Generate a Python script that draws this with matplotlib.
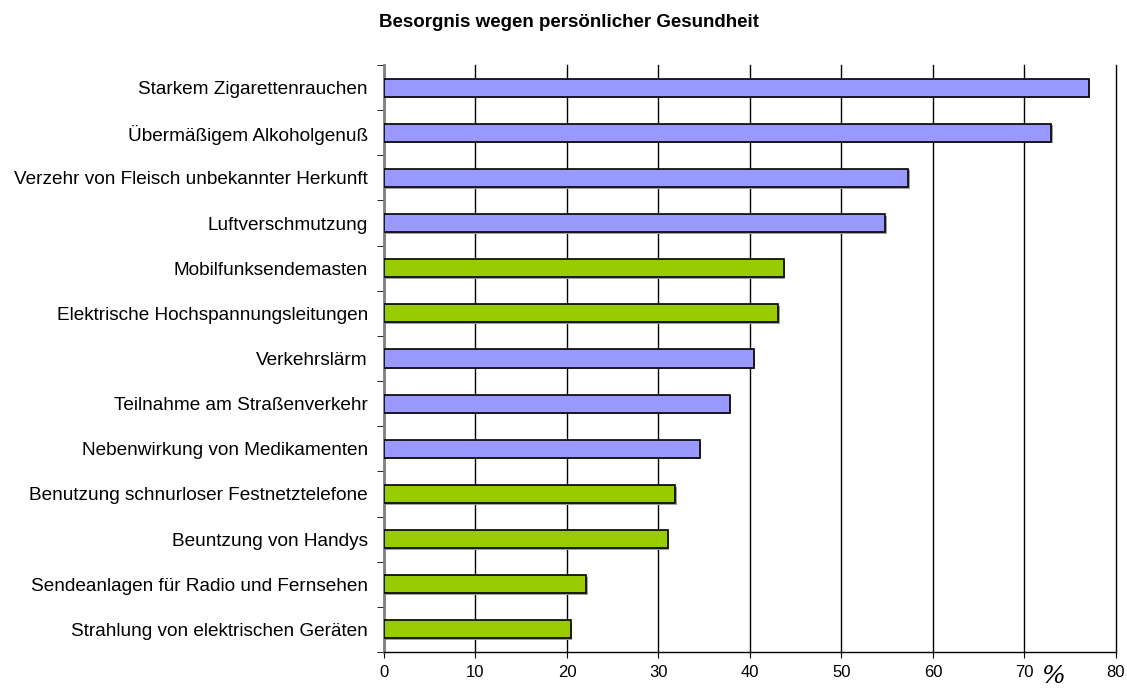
import matplotlib.pyplot as plt
import matplotlib.patheffects as pe
import numpy as np

plt.rcParams['font.family'] = ['Liberation Sans', 'DejaVu Sans']

labels = [
    "Starkem Zigarettenrauchen",
    "Übermäßigem Alkoholgenuß",
    "Verzehr von Fleisch unbekannter Herkunft",
    "Luftverschmutzung",
    "Mobilfunksendemasten",
    "Elektrische Hochspannungsleitungen",
    "Verkehrslärm",
    "Teilnahme am Straßenverkehr",
    "Nebenwirkung von Medikamenten",
    "Benutzung schnurloser Festnetztelefone",
    "Beuntzung von Handys",
    "Sendeanlagen für Radio und Fernsehen",
    "Strahlung von elektrischen Geräten",
]
values = [77.0, 72.9, 57.3, 54.8, 43.7, 43.1, 40.4, 37.8, 34.5, 31.8, 31.0, 22.1, 20.4]
group = ["b", "b", "b", "b", "g", "g", "b", "b", "b", "g", "g", "g", "g"]
colors = {"b": "#9999FF", "g": "#99CC00"}

fig = plt.figure(figsize=(11.27, 6.89), dpi=100)
ax = fig.add_axes([0.3407, 0.0537, 0.6495, 0.852])

y = np.arange(len(labels))
bars = ax.barh(y, values, height=0.4, color=[colors[g] for g in group],
               edgecolor="black", linewidth=1.2, zorder=3)
for b in bars:
    b.set_path_effects([pe.SimplePatchShadow(offset=(1.2, -1.2), shadow_rgbFace="#a0a0a0", alpha=1),
                        pe.Normal()])

ax.set_ylim(len(labels) - 0.5, -0.5)
ax.set_xlim(0, 80)
ax.set_xticks(np.arange(0, 81, 10))
ax.tick_params(axis="x", labelsize=12, length=4, direction="out", color="black", pad=5)
ax.set_yticks(y)
ax.set_yticklabels(labels, fontsize=13.7)
ax.set_yticks(np.arange(-0.5, len(labels)), minor=True)
ax.tick_params(axis="y", which="major", length=0, pad=11.5)
ax.tick_params(axis="y", which="minor", length=5, direction="out", color="black")

ax.grid(axis="x", color="black", linewidth=1, zorder=0)
for gl in ax.get_xgridlines():
    gl.set_clip_on(False)
ax.set_axisbelow(True)
for s in ["top", "right"]:
    ax.spines[s].set_visible(False)
ax.spines["left"].set_color("#808080")
ax.spines["left"].set_linewidth(2)
ax.spines["bottom"].set_linewidth(1)

fig.text(0.5045, 0.968, "Besorgnis wegen persönlicher Gesundheit", ha="center", va="center",
         fontsize=13.5, fontweight="bold")
fig.text(0.934, 0.001, "%", fontsize=18, style="italic", family="DejaVu Serif", ha="center", va="bottom")

fig.savefig("out.png", dpi=100)
